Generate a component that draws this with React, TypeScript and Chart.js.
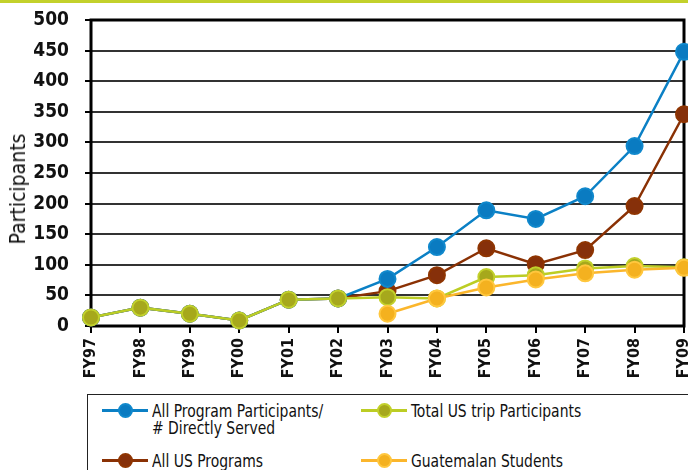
import React, { useEffect, useRef } from "react";
import { Chart, registerables } from "chart.js";

Chart.register(...registerables);

const categories = ["FY97", "FY98", "FY99", "FY00", "FY01", "FY02", "FY03", "FY04", "FY05", "FY06", "FY07", "FY08", "FY09"];
const allProgram = [14, 30, 20, 9, 43, 45, 77, 129, 189, 175, 212, 294, 448];
const allUS = [14, 30, 20, 9, 43, 45, 57, 83, 127, 101, 124, 196, 346];
const totalUSTrip = [14, 30, 20, 9, 43, 45, 47, 45, 80, 83, 94, 98, 96];
const guatemalan = [null, null, null, null, null, null, 20, 45, 63, 76, 86, 92, 95];
const yTicks = { min: 0, max: 500, step: 50 };

const FONT = "'Liberation Sans Narrow', 'DejaVu Sans Condensed', 'Arial Narrow', sans-serif";

const COLORS = {
  blue: { line: "#0b80c5", fill: "#0a7bc1", border: "#1088cc" },
  brown: { line: "#8a3104", fill: "#86300a", border: "#8f3502" },
  green: { line: "#bccd24", fill: "#a6a81c", border: "#c2d02b" },
  orange: { line: "#fbb62c", fill: "#f4b11f", border: "#ffc73e" },
};

const borderPlugin = {
  id: "frameBorder",
  beforeDatasetsDraw(chart: any) {
    const { ctx, chartArea } = chart;
    ctx.save();
    ctx.strokeStyle = "#000";
    ctx.lineWidth = 3;
    ctx.strokeRect(chartArea.left, chartArea.top, chartArea.right - chartArea.left, chartArea.bottom - chartArea.top);
    ctx.restore();
  },
};

function ds(label: string, data: (number | null)[], c: any, order: number) {
  return {
    label,
    data,
    order,
    borderColor: c.line,
    backgroundColor: c.fill,
    pointBackgroundColor: c.fill,
    pointBorderColor: c.border,
    pointBorderWidth: 2,
    pointRadius: 8,
    borderWidth: 2.5,
    tension: 0,
    spanGaps: false,
    clip: false as any,
  };
}

function LegendItem({ color, fill, border, children }: any) {
  return (
    <div style={{ display: "flex", alignItems: "flex-start" }}>
      <div style={{ position: "relative", width: 46, height: 20, flex: "0 0 46px", marginRight: 4 }}>
        <div style={{ position: "absolute", left: 0, right: 0, top: 9, height: 3, background: color }} />
        <div
          style={{
            position: "absolute",
            left: 16,
            top: 3,
            width: 11,
            height: 11,
            borderRadius: "50%",
            background: fill,
            border: `2px solid ${border}`,
          }}
        />
      </div>
      <div
        style={{
          lineHeight: "17px",
          paddingTop: 2,
          whiteSpace: "nowrap",
          transform: "scaleX(0.86)",
          transformOrigin: "left top",
        }}
      >
        {children}
      </div>
    </div>
  );
}

export default function App() {
  const canvasRef = useRef<HTMLCanvasElement>(null);

  useEffect(() => {
    const canvas = canvasRef.current!;
    const chart = new Chart(canvas, {
      type: "line",
      data: {
        labels: categories,
        datasets: [
          ds("All Program Participants/ # Directly Served", allProgram, COLORS.blue, 2),
          ds("Total US trip Participants", totalUSTrip, COLORS.green, 1),
          ds("All US Programs", allUS, COLORS.brown, 3),
          ds("Guatemalan Students", guatemalan, COLORS.orange, 0),
        ],
      },
      options: {
        animation: false,
        responsive: false,
        maintainAspectRatio: false,
        layout: { padding: { top: 20, right: 16, left: 0, bottom: 0 } },
        plugins: { legend: { display: false }, tooltip: { enabled: false } },
        scales: {
          x: {
            offset: false,
            afterFit: (s: any) => {
              s.height = 64;
              s.paddingLeft = 0;
              s.paddingRight = 0;
            },
            grid: { drawOnChartArea: false, drawTicks: true, tickLength: 7, tickColor: "#000", lineWidth: 2 },
            border: { display: false },
            ticks: {
              minRotation: 90,
              maxRotation: 90,
              autoSkip: false,
              padding: 5,
              color: "#111",
              font: { family: FONT, size: 16, weight: "bold" },
            },
          },
          y: {
            min: yTicks.min,
            max: yTicks.max,
            afterFit: (s: any) => {
              s.width = 91;
              s.paddingTop = 0;
              s.paddingBottom = 0;
            },
            grid: { color: "#333", lineWidth: 2, drawTicks: true, tickLength: 6, tickColor: "#000" },
            border: { display: false },
            ticks: {
              stepSize: yTicks.step,
              padding: 16,
              color: "#111",
              font: { family: FONT, size: 19, weight: "bold" },
            },
          },
        },
      },
      plugins: [borderPlugin],
    });
    return () => chart.destroy();
  }, []);

  return (
    <div style={{ position: "absolute", left: 0, top: 0, width: 688, height: 470, overflow: "hidden", background: "#fff", fontFamily: FONT }}>
      <div style={{ position: "absolute", left: 0, top: 0, width: 688, height: 3, background: "#c3d12b" }} />
      <canvas ref={canvasRef} width={700} height={390} style={{ position: "absolute", left: 0, top: 0 }} />
      <div
        style={{
          position: "absolute",
          left: 18,
          top: 189,
          transform: "translate(-50%, -50%) rotate(-90deg)",
          fontSize: 21,
          color: "#111",
          whiteSpace: "nowrap",
        }}
      >
        Participants
      </div>
      <div
        style={{
          position: "absolute",
          left: 87,
          top: 394,
          width: 640,
          height: 100,
          border: "1.5px solid #222",
          boxSizing: "border-box",
          fontSize: 18,
          color: "#111",
        }}
      >
        <div style={{ position: "absolute", left: 14, top: 5 }}>
          <LegendItem color={COLORS.blue.line} fill={COLORS.blue.fill} border={COLORS.blue.border}>
            All Program Participants/
            <br /># Directly Served
          </LegendItem>
        </div>
        <div style={{ position: "absolute", left: 14, top: 55 }}>
          <LegendItem color={COLORS.brown.line} fill={COLORS.brown.fill} border={COLORS.brown.border}>
            All US Programs
          </LegendItem>
        </div>
        <div style={{ position: "absolute", left: 273, top: 5 }}>
          <LegendItem color={COLORS.green.line} fill={COLORS.green.fill} border={COLORS.green.border}>
            Total US trip Participants
          </LegendItem>
        </div>
        <div style={{ position: "absolute", left: 273, top: 55 }}>
          <LegendItem color={COLORS.orange.line} fill={COLORS.orange.fill} border={COLORS.orange.border}>
            Guatemalan Students
          </LegendItem>
        </div>
      </div>
    </div>
  );
}
